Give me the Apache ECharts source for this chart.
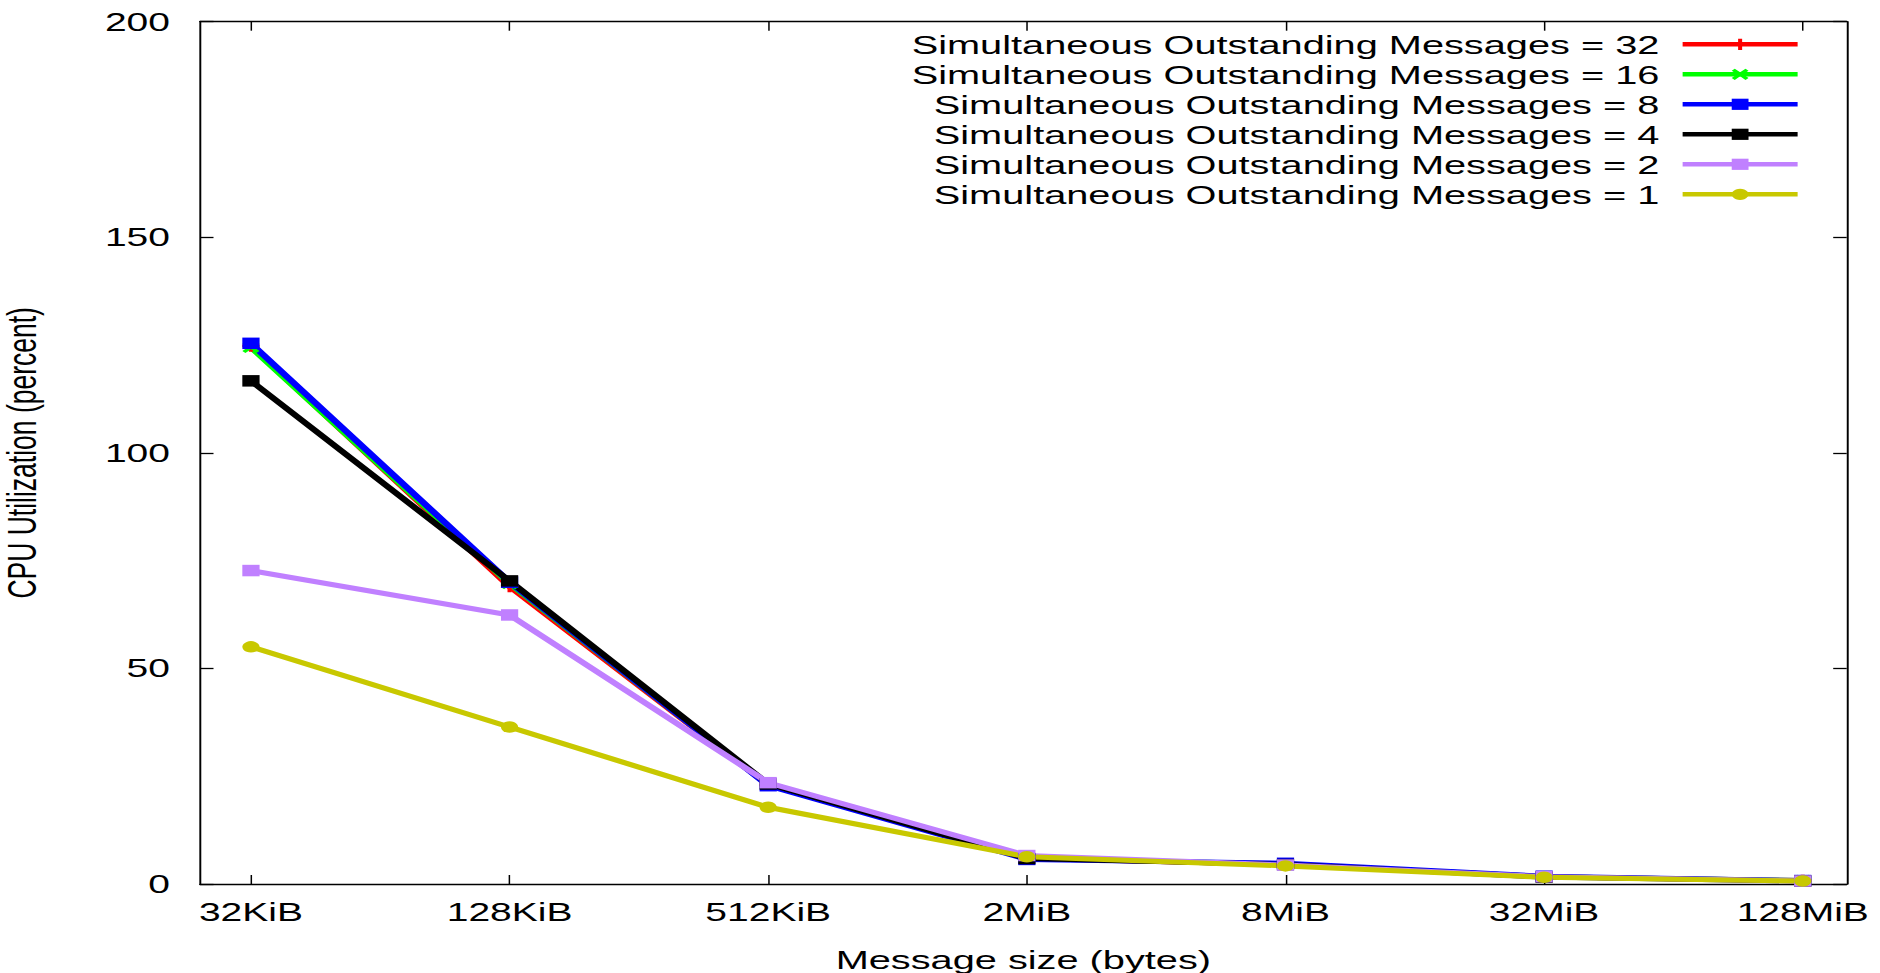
<!DOCTYPE html>
<html>
<head>
<meta charset="utf-8">
<script src="https://cdn.jsdelivr.net/npm/echarts@6/dist/echarts.min.js"></script>
<style>
  html, body { margin: 0; padding: 0; background: #fff; overflow: hidden; }
  #wrap { width: 1880px; height: 973px; overflow: hidden; }
  #c { width: 1253px; height: 973px; transform-origin: 0 0; }
</style>
</head>
<body>
<div id="wrap"><div id="c"></div></div>
<script>
// ---- data ----
const categories = ['32KiB', '128KiB', '512KiB', '2MiB', '8MiB', '32MiB', '128MiB'];
const yTicks = [0, 50, 100, 150, 200];
const seriesNames = [
  'Simultaneous Outstanding Messages = 32',
  'Simultaneous Outstanding Messages = 16',
  'Simultaneous Outstanding Messages = 8',
  'Simultaneous Outstanding Messages = 4',
  'Simultaneous Outstanding Messages = 2',
  'Simultaneous Outstanding Messages = 1'
];
const msgs32 = [124.8, 69.0, 23.0, 6.0, 4.5, 1.7, 0.8];
const msgs16 = [124.5, 69.7, 23.0, 6.0, 4.6, 1.7, 0.8];
const msgs8  = [125.4, 70.0, 22.8, 5.7, 4.8, 1.8, 0.8];
const msgs4  = [116.7, 70.3, 23.2, 5.9, 4.5, 1.6, 0.7];
const msgs2  = [72.7, 62.4, 23.5, 6.6, 4.4, 1.7, 0.7];
const msgs1  = [55.0, 36.4, 17.8, 6.3, 4.2, 1.55, 0.7];

// ---- styles ----
const S = 1880 / 1253;           // horizontal stretch of the original picture
document.getElementById('c').style.transform = 'scaleX(' + S + ')';
const FONT = 'Liberation Sans, Arial, Helvetica, sans-serif';
const colors = ['#ff0000', '#00ff00', '#0000ff', '#000000', '#c080ff', '#c8c800'];
const PLUS = 'path://M3.8,0H6.2V3.8H10V6.2H6.2V10H3.8V6.2H0V3.8H3.8Z';
const CROSS = 'path://M0,1.8L1.8,0L5,3.2L8.2,0L10,1.8L6.8,5L10,8.2L8.2,10L5,6.8L1.8,10L0,8.2L3.2,5Z';
const symbols = [PLUS, CROSS, 'rect', 'rect', 'rect', 'circle'];
const allValues = [msgs32, msgs16, msgs8, msgs4, msgs2, msgs1];
const tickIdx = categories.map((c, i) => i);

const chart = echarts.init(document.getElementById('c'), null, { renderer: 'svg' });

const xCommon = {
  type: 'value', min: -0.197, max: 6.17,
  splitLine: { show: false },
  axisLine: { show: true, onZero: false, lineStyle: { color: '#000', width: 1.3 } },
  axisTick: { show: true, inside: true, length: 9, customValues: tickIdx, lineStyle: { color: '#000', width: 1 } }
};
const yCommon = {
  type: 'value', min: 0, max: 200, interval: 50,
  splitLine: { show: false },
  axisLine: { show: true, onZero: false, lineStyle: { color: '#000', width: 1.3 } },
  axisTick: { show: true, inside: true, length: 9, lineStyle: { color: '#000', width: 1.3 } }
};

chart.setOption({
  animation: false,
  backgroundColor: '#fff',
  grid: { left: 200 / S, right: 1253 - 1846.7 / S, top: 21.7, bottom: 89, containLabel: false, outerBoundsMode: 'none' },
  xAxis: [
    Object.assign({}, xCommon, {
      position: 'bottom',
      name: 'Message size (bytes)', nameLocation: 'middle', nameGap: 62,
      nameTextStyle: { fontFamily: FONT, fontSize: 26.5, color: '#000' },
      axisLabel: { show: true, customValues: tickIdx, margin: 15, fontFamily: FONT, fontSize: 26, color: '#000',
        formatter: v => categories[Math.round(v)] }
    }),
    Object.assign({}, xCommon, { position: 'top', axisLabel: { show: false } })
  ],
  yAxis: [
    Object.assign({}, yCommon, {
      position: 'left',
      name: 'CPU Utilization (percent)', nameLocation: 'middle', nameGap: 105,
      nameTextStyle: { fontFamily: FONT, fontSize: 26.5, color: '#000' },
      axisLabel: { show: true, margin: 20, fontFamily: FONT, fontSize: 26, color: '#000' }
    }),
    Object.assign({}, yCommon, { position: 'right', axisLabel: { show: false } })
  ],
  legend: {
    data: seriesNames,
    orient: 'vertical', align: 'right',
    right: 1253 - 1801 / S, top: 44.3 - 15,
    padding: 0, itemGap: 0,
    itemWidth: 115 / S, itemHeight: 14,
    selectedMode: false,
    lineStyle: { width: 4.5 },
    textStyle: { fontFamily: FONT, fontSize: 26.5, color: '#000', lineHeight: 30, padding: [0, 10.5, 0, 0] }
  },
  series: seriesNames.map((name, k) => ({
    name: name,
    type: 'line',
    xAxisIndex: 0, yAxisIndex: 0,
    data: allValues[k].map((v, i) => [i, v]),
    symbol: symbols[k],
    symbolSize: 11.5,
    showSymbol: true,
    color: colors[k],
    lineStyle: { color: colors[k], width: 5 },
    itemStyle: { color: colors[k] },
    emphasis: { disabled: true }
  }))
});
</script>
</body>
</html>
